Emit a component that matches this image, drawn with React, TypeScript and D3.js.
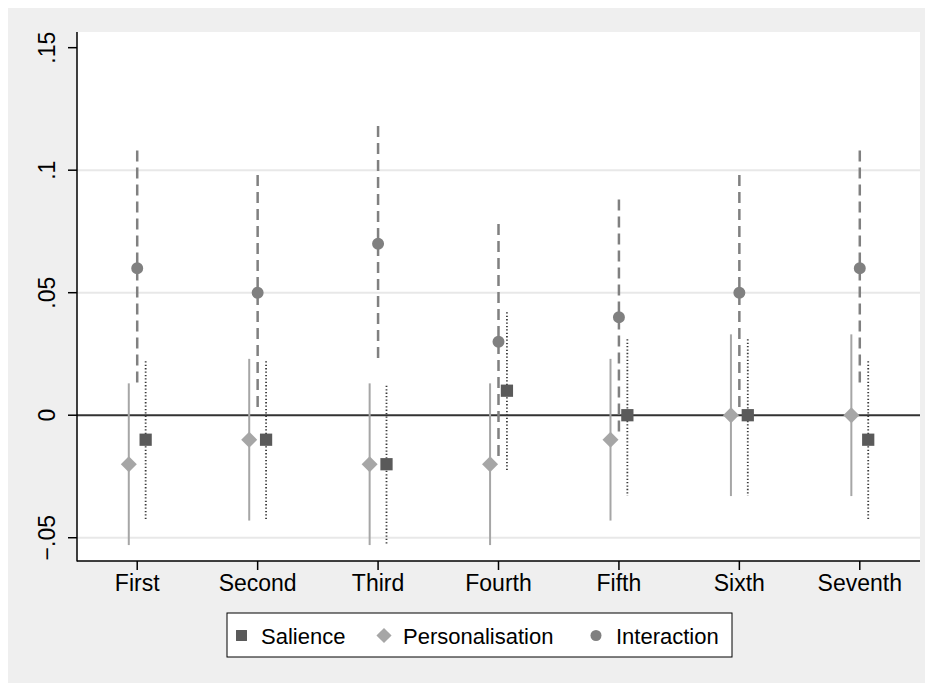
import React, { useEffect } from 'react';
import * as d3 from 'd3';

// ordinal positions on the x axis
const categories = ['First', 'Second', 'Third', 'Fourth', 'Fifth', 'Sixth', 'Seventh'];
const yTicks = [-0.05, 0, 0.05, 0.1, 0.15];
const yTickLabels = ['-.05', '0', '.05', '.1', '.15'];

// point estimates and confidence bounds
const salience = [-0.01, -0.01, -0.02, 0.01, 0, 0, -0.01];
const salienceLo = [-0.043, -0.043, -0.053, -0.023, -0.033, -0.033, -0.043];
const salienceHi = [0.022, 0.022, 0.012, 0.042, 0.031, 0.031, 0.022];

const personal = [-0.02, -0.01, -0.02, -0.02, -0.01, 0, 0];
const personalLo = [-0.053, -0.043, -0.053, -0.053, -0.043, -0.033, -0.033];
const personalHi = [0.013, 0.023, 0.013, 0.013, 0.023, 0.033, 0.033];

const interaction = [0.06, 0.05, 0.07, 0.03, 0.04, 0.05, 0.06];
const interactionLo = [0.011, 0.002, 0.021, -0.019, -0.009, 0.002, 0.011];
const interactionHi = [0.108, 0.098, 0.118, 0.078, 0.088, 0.098, 0.108];

const App = () => {
    useEffect(() => {
        document.body.style.overflow = 'hidden';

        const width = 925;
        const height = 675;
        const plot = { left: 69, right: 912, top: 24, bottom: 553 };
        const font = 'Liberation Sans, Arial, Helvetica, sans-serif';

        const svg = d3
            .select('#chart')
            .append('svg')
            .attr('width', width)
            .attr('height', height)
            .style('display', 'block');

        svg.append('rect')
            .attr('width', width)
            .attr('height', height)
            .attr('fill', '#efefef');

        svg.append('rect')
            .attr('x', plot.left)
            .attr('y', plot.top)
            .attr('width', plot.right - plot.left)
            .attr('height', plot.bottom - plot.top)
            .attr('fill', '#ffffff');

        const x = d3.scaleLinear().domain([0.5, 7.5]).range([plot.left, plot.right]);
        const y = d3.scaleLinear().domain([-0.0595, 0.1564]).range([plot.bottom, plot.top]);

        // gridlines
        svg.selectAll('.grid')
            .data([-0.05, 0.05, 0.1])
            .enter()
            .append('line')
            .attr('x1', plot.left)
            .attr('x2', plot.right)
            .attr('y1', d => y(d))
            .attr('y2', d => y(d))
            .attr('stroke', '#e8e8e8')
            .attr('stroke-width', 2);

        // zero line
        svg.append('line')
            .attr('x1', plot.left)
            .attr('x2', plot.right)
            .attr('y1', y(0))
            .attr('y2', y(0))
            .attr('stroke', '#333333')
            .attr('stroke-width', 2);

        // y axis
        svg.append('line')
            .attr('x1', plot.left)
            .attr('x2', plot.left)
            .attr('y1', plot.top)
            .attr('y2', plot.bottom + 0.5)
            .attr('stroke', '#000')
            .attr('stroke-width', 1.5);

        yTicks.forEach((t, i) => {
            svg.append('line')
                .attr('x1', plot.left - 9)
                .attr('x2', plot.left)
                .attr('y1', y(t))
                .attr('y2', y(t))
                .attr('stroke', '#000')
                .attr('stroke-width', 1.5);
            svg.append('text')
                .attr('transform', `translate(47, ${y(t)}) rotate(-90)`)
                .attr('text-anchor', 'middle')
                .attr('font-family', font)
                .attr('font-size', 23)
                .attr('fill', '#000')
                .text(yTickLabels[i].replace('-', '\u2212'));
        });

        // x axis
        svg.append('line')
            .attr('x1', plot.left)
            .attr('x2', plot.right)
            .attr('y1', plot.bottom)
            .attr('y2', plot.bottom)
            .attr('stroke', '#000')
            .attr('stroke-width', 1.5);

        categories.forEach((c, i) => {
            svg.append('line')
                .attr('x1', x(i + 1))
                .attr('x2', x(i + 1))
                .attr('y1', plot.bottom)
                .attr('y2', plot.bottom + 9)
                .attr('stroke', '#000')
                .attr('stroke-width', 1.5);
            svg.append('text')
                .attr('x', x(i + 1))
                .attr('y', 583)
                .attr('text-anchor', 'middle')
                .attr('font-family', font)
                .attr('font-size', 23)
                .attr('fill', '#000')
                .text(c);
        });

        const off = 0.07;

        // interaction: dashed
        categories.forEach((c, i) => {
            svg.append('line')
                .attr('x1', x(i + 1))
                .attr('x2', x(i + 1))
                .attr('y1', y(interactionHi[i]))
                .attr('y2', y(interactionLo[i]))
                .attr('stroke', '#808080')
                .attr('stroke-width', 2.5)
                .attr('stroke-dasharray', '11 6');
        });

        // personalisation: solid
        categories.forEach((c, i) => {
            svg.append('line')
                .attr('x1', x(i + 1 - off))
                .attr('x2', x(i + 1 - off))
                .attr('y1', y(personalHi[i]))
                .attr('y2', y(personalLo[i]))
                .attr('stroke', '#a6a6a6')
                .attr('stroke-width', 2);
        });

        // salience: dotted
        categories.forEach((c, i) => {
            svg.append('line')
                .attr('x1', x(i + 1 + off))
                .attr('x2', x(i + 1 + off))
                .attr('y1', y(salienceHi[i]))
                .attr('y2', y(salienceLo[i]))
                .attr('stroke', '#3a3a3a')
                .attr('stroke-width', 1.8)
                .attr('stroke-dasharray', '1.3 2.1');
        });

        const square = d3.symbol().type(d3.symbolSquare).size(150);
        const diamond = d3.symbol().type(d3.symbolSquare).size(128);
        const circle = d3.symbol().type(d3.symbolCircle).size(113);

        categories.forEach((c, i) => {
            svg.append('path')
                .attr('d', circle())
                .attr('transform', `translate(${x(i + 1)}, ${y(interaction[i])})`)
                .attr('fill', '#808080');
            svg.append('path')
                .attr('d', diamond())
                .attr('transform', `translate(${x(i + 1 - off)}, ${y(personal[i])}) rotate(45)`)
                .attr('fill', '#a6a6a6');
            svg.append('path')
                .attr('d', square())
                .attr('transform', `translate(${x(i + 1 + off)}, ${y(salience[i])})`)
                .attr('fill', '#5a5a5a');
        });

        // legend
        const legend = svg.append('g');
        legend.append('rect')
            .attr('x', 219)
            .attr('y', 605)
            .attr('width', 505)
            .attr('height', 44)
            .attr('fill', '#fff')
            .attr('stroke', '#000')
            .attr('stroke-width', 1);

        const items = [
            { label: 'Salience', sym: d3.symbol().type(d3.symbolSquare).size(120), mx: 233.5, tx: 253, fill: '#5a5a5a', rot: 0 },
            { label: 'Personalisation', sym: d3.symbol().type(d3.symbolSquare).size(115), mx: 376, tx: 395, fill: '#a6a6a6', rot: 45 },
            { label: 'Interaction', sym: d3.symbol().type(d3.symbolCircle).size(95), mx: 588, tx: 608, fill: '#808080', rot: 0 },
        ];
        items.forEach(it => {
            legend.append('path')
                .attr('d', it.sym())
                .attr('transform', `translate(${it.mx}, 627.5) rotate(${it.rot})`)
                .attr('fill', it.fill);
            legend.append('text')
                .attr('x', it.tx)
                .attr('y', 635.5)
                .attr('font-family', font)
                .attr('font-size', 22)
                .attr('fill', '#000')
                .text(it.label);
        });

        return () => {
            svg.remove();
        };
    }, []);

    return <div id="chart"></div>;
};

export default App;
